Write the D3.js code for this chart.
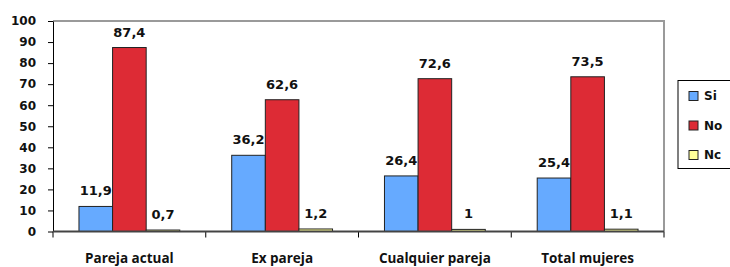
<!DOCTYPE html>
<html>
<head>
<meta charset="utf-8">
<script src="https://cdn.jsdelivr.net/npm/d3@7/dist/d3.min.js"></script>
<style>
	body { margin: 0; background: #fff; }
	svg { display: block; }
	.num { font-family: "DejaVu Sans", Verdana, sans-serif; font-weight: bold; }
	.cat { font-family: "Open Sans", Lato, sans-serif; font-weight: bold; }
</style>
</head>
<body>
<div id="chart"></div>
<script>
// data
var categories = ['Pareja actual', 'Ex pareja', 'Cualquier pareja', 'Total mujeres'];
var series = ['Si', 'No', 'Nc'];
var si = [11.9, 36.2, 26.4, 25.4];
var no = [87.4, 62.6, 72.6, 73.5];
var nc = [0.7, 1.2, 1, 1.1];
var colors = ['#66aaff', '#dd2b35', '#ffff99'];
var yTicks = [0, 10, 20, 30, 40, 50, 60, 70, 80, 90, 100];

var values = [si, no, nc];
var W = 730, H = 267;
// note: "top" is reserved on window, hence plot_*
var plot_left = 53, plot_right = 664, plot_top = 21, plot_base = 231.5;

var svg = d3.select('#chart').append('svg')
		.attr('width', W)
		.attr('height', H);

var y = d3.scaleLinear().domain([0, 100]).range([plot_base, plot_top]);
var x = d3.scaleBand().domain(categories).range([plot_left, plot_right]);
var step = x.bandwidth();
var xs = d3.scaleBand().domain(series).range([step * 0.17, step * 0.83]);

// plot frame (top + right) in grey
svg.append('path')
	.attr('d', 'M' + plot_left + ',' + y(100) + 'H' + plot_right + 'V' + plot_base)
	.attr('style', 'stroke:#9a9a9a;stroke-width:2px;fill:none;');

// bars
var rows = [];
categories.forEach(function(c, i) {
	series.forEach(function(s, j) {
		rows.push({cat: c, ser: s, v: values[j][i], col: colors[j]});
	});
});

svg.append('g').selectAll('rect')
	.data(rows)
	.enter()
	.append('rect')
	.attr('x', function(d) { return x(d.cat) + xs(d.ser); })
	.attr('y', function(d) { return y(d.v); })
	.attr('width', xs.bandwidth())
	.attr('height', function(d) { return plot_base - y(d.v); })
	.attr('fill', function(d) { return d.col; })
	.attr('stroke', '#222')
	.attr('stroke-width', 1);

// value labels
svg.append('g').selectAll('text')
	.data(rows)
	.enter()
	.append('text')
	.attr('class', 'num')
	.attr('x', function(d) { return x(d.cat) + xs(d.ser) + xs.bandwidth() / 2; })
	.attr('y', function(d) { return y(d.v) - 11; })
	.attr('text-anchor', 'middle')
	.attr('font-size', 13)
	.attr('fill', '#111')
	.text(function(d) { return String(d.v).replace('.', ','); });

// y axis
var yAxis = svg.append('g')
		.attr('transform', 'translate(' + plot_left + ',0)')
		.call(d3.axisLeft(y).tickValues(yTicks).tickSize(5).tickPadding(12).tickSizeOuter(0));
yAxis.select('.domain').attr('stroke', '#000');
yAxis.selectAll('.tick line').attr('stroke', '#000');
yAxis.selectAll('text')
	.attr('class', 'num')
	.attr('font-size', 12)
	.attr('fill', '#111');

// x baseline with ticks on the category boundaries
var bounds = categories.map(function(c) { return x(c); }).concat([plot_right]);
svg.append('g').selectAll('line')
	.data(bounds)
	.enter()
	.append('line')
	.attr('x1', function(d) { return d; })
	.attr('x2', function(d) { return d; })
	.attr('y1', plot_base)
	.attr('y2', plot_base + 6)
	.attr('stroke', '#000');
svg.append('line')
	.attr('x1', plot_left).attr('x2', plot_right)
	.attr('y1', plot_base).attr('y2', plot_base)
	.attr('stroke', '#444')
	.attr('stroke-width', 2);

// category labels
svg.append('g').selectAll('text')
	.data(categories)
	.enter()
	.append('text')
	.attr('class', 'cat')
	.attr('x', function(d) { return x(d) + step / 2; })
	.attr('y', 263)
	.attr('text-anchor', 'middle')
	.attr('font-size', 13.5)
	.attr('fill', '#111')
	.text(function(d) { return d; });

// legend
var lg = svg.append('g').attr('transform', 'translate(678,80.5)');
lg.append('rect')
	.attr('width', 70)
	.attr('height', 88)
	.attr('fill', '#fff')
	.attr('stroke', '#000');
var item = lg.selectAll('g')
		.data(series)
		.enter()
		.append('g')
		.attr('transform', function(d, i) { return 'translate(11,' + (15.5 + i * 29.5) + ')'; });
item.append('rect')
	.attr('y', -4.5)
	.attr('width', 9)
	.attr('height', 9)
	.attr('fill', function(d, i) { return colors[i]; })
	.attr('stroke', '#222');
item.append('text')
	.attr('class', 'num')
	.attr('x', 15)
	.attr('dy', '0.36em')
	.attr('font-size', 12)
	.attr('fill', '#111')
	.text(function(d) { return d; });
</script>
</body>
</html>
